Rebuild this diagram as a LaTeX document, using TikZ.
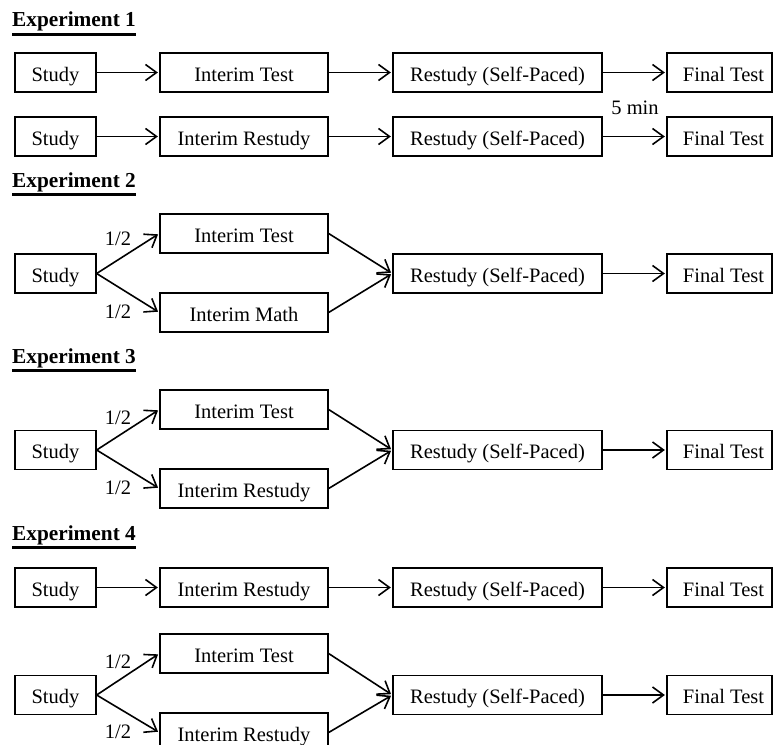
\documentclass[tikz,border=0pt]{standalone}
\usepackage{fontspec}
\setmainfont{Liberation Serif}
\usetikzlibrary{arrows.meta}
\newcommand\fsz{\fontsize{20.5}{24}\selectfont}
\newcommand\hsz{\fontsize{21.3}{24}\selectfont}
\begin{document}
\begin{tikzpicture}[x=1pt,y=-1pt,
  box/.style={draw, line width=1.3pt, minimum height=39pt, inner sep=0pt, text height=18pt, text depth=1pt, font=\fsz},
  studybox/.style={box, minimum width=81pt},
  interimbox/.style={box, minimum width=168pt},
  restudybox/.style={box, minimum width=209pt},
  finalbox/.style={box, minimum width=105pt},
  arr/.style={line width=1.6pt, shorten >=1.5pt, -{Straight Barb[length=11pt,width=16pt,line width=1.6pt]}},
  lbl/.style={font=\fsz, inner sep=0pt},
  head/.style={font=\hsz\bfseries, anchor=base west, inner sep=0pt},
  uline/.style={line width=3pt}]
\clip (0,0) rectangle (773,744);

% Experiment 1
\node[head] (h1) at (12,27) {Experiment 1};
\draw[uline] ([yshift=-7.5pt]h1.base west) -- ([yshift=-7.5pt]h1.base east);
\node[studybox] (s1a) at (55.5,72.5) {Study};
\node[interimbox] (i1a) at (244,72.5) {Interim Test};
\node[restudybox] (r1a) at (497.5,72.5) {Restudy (Self-Paced)};
\node[finalbox] (f1a) at (719.5,72.5) {\hspace*{8pt}Final Test};
\draw[arr] (s1a) -- (i1a);
\draw[arr] (i1a) -- (r1a);
\draw[arr] (r1a) -- (f1a);
\node[studybox] (s1b) at (55.5,136.5) {Study};
\node[interimbox] (i1b) at (244,136.5) {Interim Restudy};
\node[restudybox] (r1b) at (497.5,136.5) {Restudy (Self-Paced)};
\node[finalbox] (f1b) at (719.5,136.5) {\hspace*{8pt}Final Test};
\draw[arr] (s1b) -- (i1b);
\draw[arr] (i1b) -- (r1b);
\draw[arr] (r1b) -- (f1b);
\node[lbl] (min5) at (635,108) {5 min};

% Experiment 2
\node[head] (h2) at (12,187) {Experiment 2};
\draw[uline] ([yshift=-7.5pt]h2.base west) -- ([yshift=-7.5pt]h2.base east);
\node[studybox] (s2) at (55.5,273.5) {Study};
\node[interimbox] (t2) at (244,233.5) {Interim Test};
\node[interimbox] (m2) at (244,312.5) {Interim Math};
\node[restudybox] (r2) at (497.5,273.5) {Restudy (Self-Paced)};
\node[finalbox] (f2) at (719.5,273.5) {\hspace*{8pt}Final Test};
\draw[arr] (s2.east) -- (t2.west);
\draw[arr] (s2.east) -- (m2.west);
\draw[arr] (t2.east) -- (r2.west);
\draw[arr] (m2.east) -- (r2.west);
\draw[arr] (r2) -- (f2);
\node[lbl] (p2a) at (118,239) {1/2};
\node[lbl] (p2b) at (118,312) {1/2};

% Experiment 3
\node[head] (h3) at (12,363) {Experiment 3};
\draw[uline] ([yshift=-7.5pt]h3.base west) -- ([yshift=-7.5pt]h3.base east);
\node[studybox] (s3) at (55.5,450) {Study};
\node[interimbox] (t3) at (244,409.5) {Interim Test};
\node[interimbox] (m3) at (244,488.5) {Interim Restudy};
\node[restudybox] (r3) at (497.5,450) {Restudy (Self-Paced)};
\node[finalbox] (f3) at (719.5,450) {\hspace*{8pt}Final Test};
\draw[arr] (s3.east) -- (t3.west);
\draw[arr] (s3.east) -- (m3.west);
\draw[arr] (t3.east) -- (r3.west);
\draw[arr] (m3.east) -- (r3.west);
\draw[arr] (r3) -- (f3);
\node[lbl] (p3a) at (118,418) {1/2};
\node[lbl] (p3b) at (118,488) {1/2};

% Experiment 4
\node[head] (h4) at (12,540) {Experiment 4};
\draw[uline] ([yshift=-7.5pt]h4.base west) -- ([yshift=-7.5pt]h4.base east);
\node[studybox] (s4a) at (55.5,587.5) {Study};
\node[interimbox] (i4a) at (244,587.5) {Interim Restudy};
\node[restudybox] (r4a) at (497.5,587.5) {Restudy (Self-Paced)};
\node[finalbox] (f4a) at (719.5,587.5) {\hspace*{8pt}Final Test};
\draw[arr] (s4a) -- (i4a);
\draw[arr] (i4a) -- (r4a);
\draw[arr] (r4a) -- (f4a);
\node[studybox] (s4) at (55.5,695) {Study};
\node[interimbox] (t4) at (244,653.5) {Interim Test};
\node[interimbox] (m4) at (244,732.5) {Interim Restudy};
\node[restudybox] (r4) at (497.5,695) {Restudy (Self-Paced)};
\node[finalbox] (f4) at (719.5,695) {\hspace*{8pt}Final Test};
\draw[arr] (s4.east) -- (t4.west);
\draw[arr] (s4.east) -- (m4.west);
\draw[arr] (t4.east) -- (r4.west);
\draw[arr] (m4.east) -- (r4.west);
\draw[arr] (r4) -- (f4);
\node[lbl] (p4a) at (118,662) {1/2};
\node[lbl] (p4b) at (118,732) {1/2};
\end{tikzpicture}
\end{document}
